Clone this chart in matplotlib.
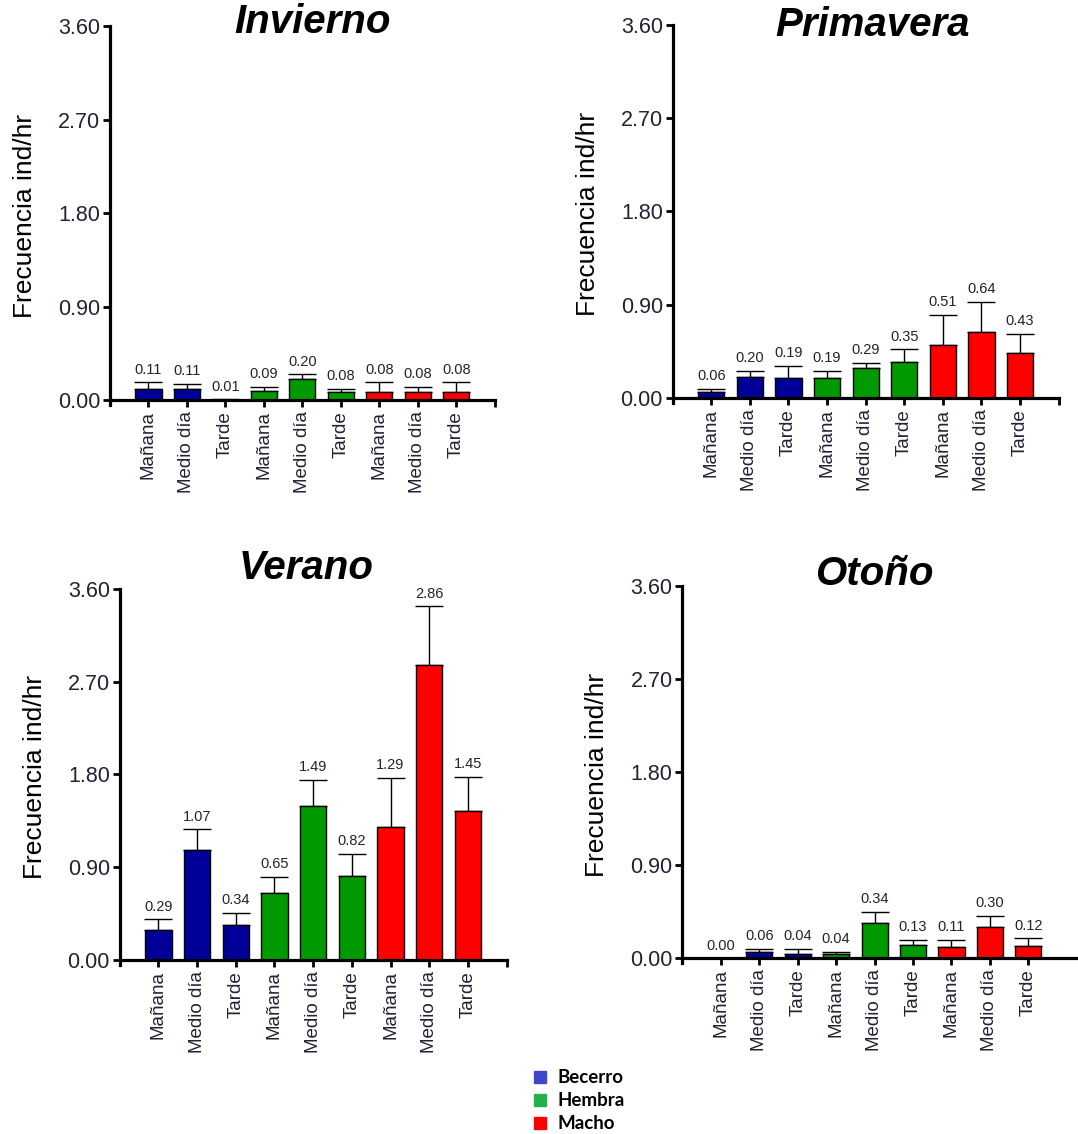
import numpy as np
import matplotlib.pyplot as plt
from matplotlib.lines import Line2D

plt.rcParams['font.family'] = ['Liberation Sans', 'DejaVu Sans']

horarios = ['Mañana', 'Medio día', 'Tarde']
etiquetas = horarios * 3
grupos = ['Becerro', 'Hembra', 'Macho']

invierno = [0.11, 0.11, 0.01, 0.09, 0.20, 0.08, 0.08, 0.08, 0.08]
invierno_err = [0.06, 0.05, 0.00, 0.04, 0.05, 0.03, 0.09, 0.05, 0.09]
primavera = [0.06, 0.20, 0.19, 0.19, 0.29, 0.35, 0.51, 0.64, 0.43]
primavera_err = [0.03, 0.06, 0.12, 0.07, 0.05, 0.12, 0.29, 0.29, 0.19]
verano = [0.29, 1.07, 0.34, 0.65, 1.49, 0.82, 1.29, 2.86, 1.45]
verano_err = [0.11, 0.20, 0.12, 0.16, 0.26, 0.21, 0.48, 0.57, 0.33]
otono = [0.00, 0.06, 0.04, 0.04, 0.34, 0.13, 0.11, 0.30, 0.12]
otono_err = [0.00, 0.03, 0.05, 0.02, 0.11, 0.05, 0.07, 0.11, 0.07]

col_barras = ['#000099'] * 3 + ['#009900'] * 3 + ['#FF0000'] * 3
col_leyenda = ['#3F48CC', '#22B14C', '#FF0000']
txt = '#222233'

fig = plt.figure(figsize=(10.78, 11.34), dpi=100)

# (titulo, valores, error, [left, bottom, width, height], xmax, titulo x, titulo dy en pt)
paneles = [
    ('Invierno', invierno, invierno_err, (0.102, 0.643, 0.357, 0.334), 10.0, 0.527, 3),
    ('Primavera', primavera, primavera_err, (0.624, 0.645, 0.358, 0.333), 10.0, 0.518, 0),
    ('Verano', verano, verano_err, (0.111, 0.149, 0.359, 0.332), 10.0, 0.483, 15),
    ('Otoño', otono, otono_err, (0.633, 0.151, 0.378, 0.332), 10.6, 0.472, 9),
]

for titulo, vals, errs, pos, xmax, tx, ty in paneles:
    ax = fig.add_axes(pos)
    x = np.arange(1, len(vals) + 1)
    vals = np.array(vals)
    errs = np.array(errs)
    ax.bar(x, vals, width=0.68, color=col_barras, edgecolor='black', linewidth=1, zorder=2)
    m = errs > 0
    ax.errorbar(x[m], vals[m], yerr=[np.zeros(m.sum()), errs[m]], fmt='none',
                ecolor='black', elinewidth=1, capsize=10, capthick=1, zorder=1)
    for xi, v, e in zip(x, vals, errs):
        ax.annotate(f'{v:.2f}', (xi, v + e), xytext=(0, 4), textcoords='offset points',
                    ha='center', va='bottom', fontsize=10.5, color=txt)

    ax.set_xlim(0, xmax)
    ax.set_ylim(-0.045, 3.6)
    ax.spines['bottom'].set_position(('data', 0))
    ax.spines['top'].set_visible(False)
    ax.spines['right'].set_visible(False)
    for s in ['left', 'bottom']:
        ax.spines[s].set_linewidth(2.3)
    ax.set_yticks([0, 0.9, 1.8, 2.7, 3.6])
    ax.set_yticklabels(['0.00', '0.90', '1.80', '2.70', '3.60'])
    ax.set_xticks(x)
    ax.set_xticklabels(etiquetas, rotation=90)
    if xmax <= 10:
        ax.set_xticks([xmax], minor=True)
    ax.tick_params(axis='y', labelsize=15.5, labelcolor=txt, width=2, length=5, pad=2)
    ax.tick_params(axis='x', labelsize=13.5, labelcolor=txt, width=2, length=5,
                   direction='out', pad=3)
    ax.tick_params(axis='x', which='minor', width=2, length=5)
    ax.set_ylabel('Frecuencia ind/hr', fontsize=19, color='black', labelpad=15)
    ax.annotate(titulo, (tx, 1.0), xycoords='axes fraction', xytext=(0, ty),
                textcoords='offset points', ha='center', va='center',
                fontsize=29, fontweight='bold', fontstyle='italic')

handles = [Line2D([], [], marker='s', linestyle='none', markersize=8,
                  markerfacecolor=c, markeredgecolor=c) for c in col_leyenda]
fig.legend(handles, grupos, loc='upper left', bbox_to_anchor=(0.485, 0.0635),
           frameon=False, handletextpad=0.45, labelspacing=0.32, borderaxespad=0,
           handlelength=1.0, prop={'family': 'Lato', 'weight': 'bold', 'size': 13.5})

fig.savefig('out.png', dpi=100)
